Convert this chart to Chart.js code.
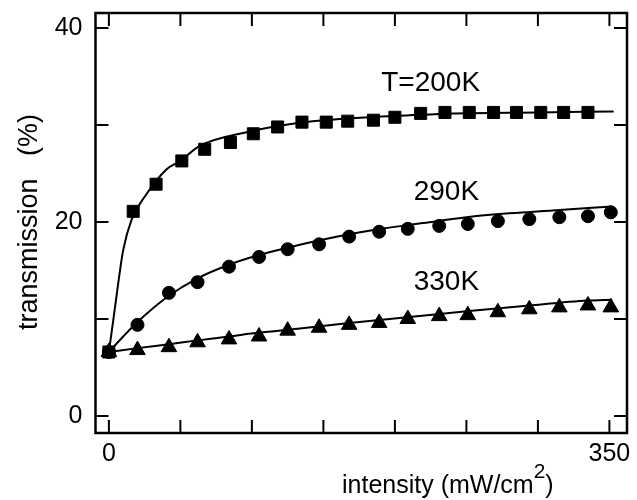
<!DOCTYPE html>
<html>
<head>
<meta charset="utf-8">
<script src="https://cdn.jsdelivr.net/npm/chart.js@4.4.1/dist/chart.umd.min.js"></script>
<style>
  html, body { margin: 0; padding: 0; background: #fff; }
</style>
</head>
<body>
<canvas id="c" width="637" height="500"></canvas>
<script>
// measured points (intensity in mW/cm2, transmission in %)
const x200 = [0, 17, 33, 51, 67, 85, 101, 118, 135, 152, 167, 185, 200, 218, 235, 252, 269, 285, 302, 318, 335];
const t200 = [6.6, 21.1, 23.9, 26.3, 27.5, 28.2, 29.1, 29.8, 30.3, 30.3, 30.4, 30.5, 30.8, 31.2, 31.3, 31.3, 31.3, 31.3, 31.3, 31.3, 31.3];

const x290 = [0, 20, 42, 62, 84, 105, 125, 147, 168, 189, 209, 231, 251, 272, 294, 315, 335, 351];
const t290 = [6.6, 9.4, 12.7, 13.8, 15.4, 16.4, 17.2, 17.7, 18.5, 19.0, 19.3, 19.6, 19.8, 20.1, 20.3, 20.5, 20.6, 21.0];

const x330 = [0, 20, 42, 62, 84, 105, 125, 147, 168, 189, 209, 231, 251, 272, 294, 315, 335, 351];
const t330 = [6.6, 6.8, 7.1, 7.6, 7.9, 8.2, 8.8, 9.1, 9.4, 9.6, 10.0, 10.3, 10.4, 10.7, 11.0, 11.2, 11.4, 11.2];

// fitted curves
const fitX200 = [0, 3, 5, 10, 16, 25, 40, 50, 63, 98, 132, 170, 210, 241, 300, 353];
const fitT200 = [6.6, 9.8, 12.0, 17.1, 20.3, 22.6, 25.4, 26.3, 27.8, 29.3, 30.2, 30.7, 31.0, 31.2, 31.3, 31.4];

const fitX290 = [0, 10, 20, 42, 62, 84, 105, 132, 160, 190, 220, 250, 280, 310, 352];
const fitT290 = [6.6, 8.2, 9.7, 12.4, 14.2, 15.6, 16.6, 17.6, 18.5, 19.3, 19.9, 20.5, 20.9, 21.2, 21.6];

const fitX330 = [0, 20, 42, 62, 84, 105, 132, 168, 210, 250, 294, 335, 352];
const fitT330 = [6.6, 7.0, 7.4, 7.8, 8.2, 8.6, 9.0, 9.6, 10.2, 10.8, 11.4, 11.9, 12.0];

const seriesNames = ['T=200K', '290K', '330K'];

const xTicks = [0, 50, 100, 150, 200, 250, 300, 350];
const xLabels = [0, 350];
const yTicks = [0, 10, 20, 30, 40];
const yLabels = [0, 20, 40];

const FONT = '"Liberation Sans", Arial, Helvetica, sans-serif';
const TICK = 13;

function pts(xs, ys) {
  return xs.map((v, i) => ({ x: v, y: ys[i] }));
}

function markers(xs, ys, style, r) {
  return {
    data: pts(xs, ys),
    showLine: false,
    pointStyle: style,
    pointRadius: r,
    pointBackgroundColor: '#000',
    pointBorderColor: '#000',
    pointBorderWidth: 1
  };
}

function fit(xs, ys) {
  return {
    data: pts(xs, ys),
    showLine: true,
    pointRadius: 0,
    borderColor: '#000',
    borderWidth: 2,
    cubicInterpolationMode: 'monotone'
  };
}

// frame, inward ticks, axis titles and curve labels
const decor = {
  id: 'decor',
  afterDraw(chart) {
    const { ctx, chartArea: a, scales: { x, y } } = chart;
    ctx.save();
    ctx.strokeStyle = '#000';
    ctx.lineWidth = 2.5;
    ctx.strokeRect(a.left, a.top, a.right - a.left, a.bottom - a.top);

    ctx.lineWidth = 2;
    ctx.beginPath();
    xTicks.forEach(v => {
      const px = x.getPixelForValue(v);
      ctx.moveTo(px, a.bottom); ctx.lineTo(px, a.bottom - TICK);
      ctx.moveTo(px, a.top); ctx.lineTo(px, a.top + TICK);
    });
    yTicks.forEach(v => {
      const py = y.getPixelForValue(v);
      ctx.moveTo(a.left, py); ctx.lineTo(a.left + TICK, py);
      ctx.moveTo(a.right, py); ctx.lineTo(a.right - TICK, py);
    });
    ctx.stroke();

    ctx.fillStyle = '#000';
    ctx.textBaseline = 'alphabetic';

    // x title with superscript
    ctx.textAlign = 'left';
    ctx.font = '25px ' + FONT;
    let tx = 342;
    const ty = 493;
    ctx.fillText('intensity (mW/cm', tx, ty);
    tx += ctx.measureText('intensity (mW/cm').width;
    ctx.font = '21px ' + FONT;
    ctx.fillText('2', tx, ty - 15);
    tx += ctx.measureText('2').width;
    ctx.font = '25px ' + FONT;
    ctx.fillText(')', tx, ty);

    // y title
    ctx.save();
    ctx.translate(37, 222);
    ctx.rotate(-Math.PI / 2);
    ctx.textAlign = 'center';
    ctx.font = '27px ' + FONT;
    ctx.fillText('transmission   (%)', 0, 0);
    ctx.restore();

    // curve labels
    ctx.font = '28px ' + FONT;
    ctx.textAlign = 'center';
    ctx.textBaseline = 'middle';
    const labelAt = [[225, 34.3], [236, 23.1], [236, 13.8]];
    seriesNames.forEach((s, i) => {
      ctx.fillText(s, x.getPixelForValue(labelAt[i][0]), y.getPixelForValue(labelAt[i][1]));
    });
    ctx.restore();
  }
};

new Chart(document.getElementById('c'), {
  type: 'scatter',
  data: {
    datasets: [
      fit(fitX200, fitT200),
      fit(fitX290, fitT290),
      fit(fitX330, fitT330),
      markers(x200, t200, 'rect', 8.5),
      markers(x290, t290, 'circle', 6.5),
      markers(x330, t330, 'triangle', 9)
    ]
  },
  options: {
    responsive: false,
    animation: false,
    layout: { padding: { top: 13, right: 5.3, left: 0, bottom: 0 } },
    plugins: { legend: { display: false }, tooltip: { enabled: false } },
    scales: {
      x: {
        type: 'linear',
        min: -9.36,
        max: 362.3,
        grid: { display: false, drawTicks: false, tickLength: 0 },
        border: { display: false },
        afterBuildTicks: s => { s.ticks = xTicks.map(v => ({ value: v })); },
        afterFit: s => { s.height = 67; s.paddingLeft = 0; s.paddingRight = 0; },
        ticks: {
          autoSkip: false,
          maxRotation: 0,
          padding: 6,
          color: '#000',
          font: { family: FONT, size: 25 },
          callback: v => xLabels.includes(v) ? String(v) : ''
        }
      },
      y: {
        type: 'linear',
        min: -1.75,
        max: 41.55,
        grid: { display: false, drawTicks: false, tickLength: 0 },
        border: { display: false },
        afterBuildTicks: s => { s.ticks = yTicks.map(v => ({ value: v })); },
        afterFit: s => { s.width = 95.5; s.paddingTop = 0; s.paddingBottom = 0; },
        ticks: {
          autoSkip: false,
          padding: 13,
          color: '#000',
          font: { family: FONT, size: 25 },
          callback: v => yLabels.includes(v) ? String(v) : ''
        }
      }
    }
  },
  plugins: [decor]
});
</script>
</body>
</html>
